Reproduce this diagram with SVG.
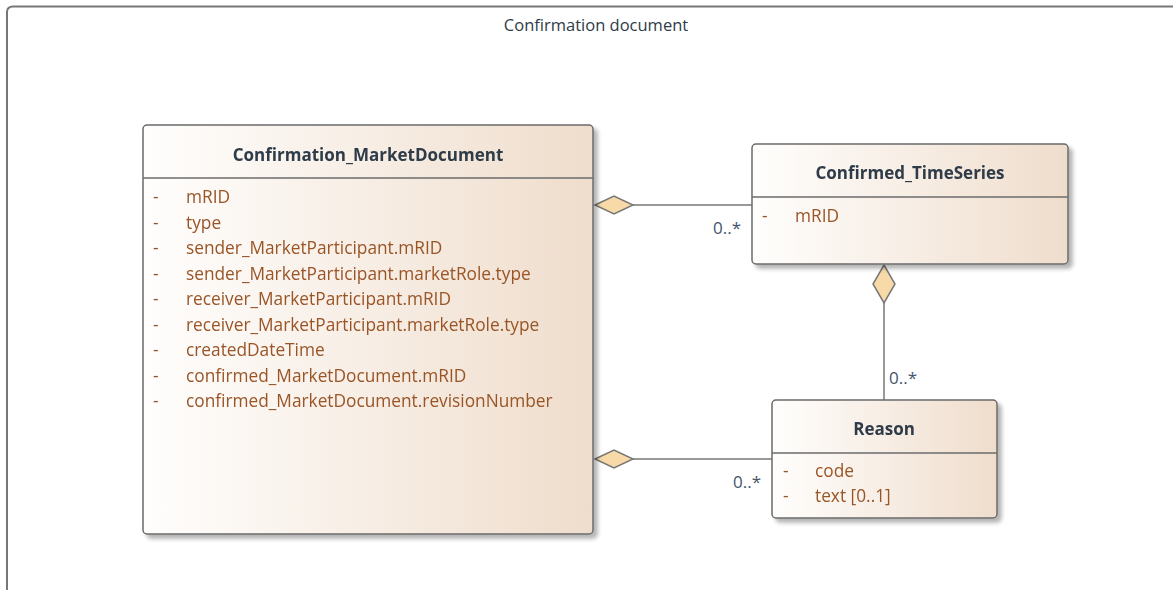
<svg xmlns="http://www.w3.org/2000/svg" width="1173" height="590" viewBox="0 0 1173 590">
<defs>
<linearGradient id="g" x1="0" y1="0" x2="1" y2="0">
<stop offset="0" stop-color="#FFFEFD"/>
<stop offset="1" stop-color="#EFDDCC"/>
</linearGradient>
<filter id="sh" x="-5%" y="-5%" width="115%" height="115%">
<feGaussianBlur in="SourceAlpha" stdDeviation="2"/>
<feOffset dx="4" dy="4"/>
<feComponentTransfer><feFuncA type="linear" slope="0.3"/></feComponentTransfer>
<feMerge><feMergeNode/><feMergeNode in="SourceGraphic"/></feMerge>
</filter>
</defs>
<style>
.box{fill:url(#g);stroke:#6b6b6b;stroke-width:1.5}
.sep{stroke:#6b6b6b;stroke-width:1.5}
.title{font-family:"Open Sans","Noto Sans",sans-serif;font-weight:bold;font-size:17px;fill:#2f3b48;text-anchor:middle}
.attr{font-family:"Open Sans","Noto Sans",sans-serif;font-size:17.3px;fill:#9a5427}
.line{stroke:#777;stroke-width:1.5;fill:none}
.dia{fill:#F8D9A8;stroke:#777;stroke-width:1.5}
.mult{font-family:"Open Sans","Noto Sans",sans-serif;font-size:17px;fill:#44546a}
.frame{fill:none;stroke:#777;stroke-width:2}
.ftitle{font-family:"Open Sans","Noto Sans",sans-serif;font-size:16.5px;fill:#2f3b48;text-anchor:middle}
</style>
<rect width="1173" height="590" fill="#fff"/>
<g id="frame">
<path class="frame" d="M7 600 V12 Q7 6.5 13 6.5 H1180"/>
<text class="ftitle" x="596" y="31">Confirmation document</text>
</g>
<g id="connectors">
<line class="line" x1="633" y1="205" x2="752" y2="205"/>
<polygon class="dia" points="595,205 614,196 633,205 614,214"/>
<text class="mult" x="713" y="234">0..*</text>
<line class="line" x1="633" y1="459" x2="772" y2="459"/>
<polygon class="dia" points="595,459 614,450 633,459 614,468"/>
<text class="mult" x="733" y="488">0..*</text>
<line class="line" x1="884" y1="303" x2="884" y2="400"/>
<polygon class="dia" points="884,265 895,284 884,303 873,284"/>
<text class="mult" x="889" y="384">0..*</text>
</g>
<g id="Confirmation_MarketDocument" filter="url(#sh)">
<rect class="box" x="143" y="125" width="450" height="409" rx="4"/>
<line class="sep" x1="143" y1="178" x2="593" y2="178"/>
<text class="title" x="368" y="161">Confirmation_MarketDocument</text>
<g class="attr">
<text x="153" y="203">-</text><text x="186" y="203">mRID</text>
<text x="153" y="228.5">-</text><text x="186" y="228.5">type</text>
<text x="153" y="254">-</text><text x="186" y="254">sender_MarketParticipant.mRID</text>
<text x="153" y="279.5">-</text><text x="186" y="279.5">sender_MarketParticipant.marketRole.type</text>
<text x="153" y="305">-</text><text x="186" y="305">receiver_MarketParticipant.mRID</text>
<text x="153" y="330.5">-</text><text x="186" y="330.5">receiver_MarketParticipant.marketRole.type</text>
<text x="153" y="356">-</text><text x="186" y="356">createdDateTime</text>
<text x="153" y="381.5">-</text><text x="186" y="381.5">confirmed_MarketDocument.mRID</text>
<text x="153" y="407">-</text><text x="186" y="407">confirmed_MarketDocument.revisionNumber</text>
</g>
</g>
<g id="Confirmed_TimeSeries" filter="url(#sh)">
<rect class="box" x="752" y="144" width="316" height="120" rx="4"/>
<line class="sep" x1="752" y1="197" x2="1068" y2="197"/>
<text class="title" x="910" y="179">Confirmed_TimeSeries</text>
<g class="attr">
<text x="762" y="222">-</text><text x="795" y="222">mRID</text>
</g>
</g>
<g id="Reason" filter="url(#sh)">
<rect class="box" x="772" y="400" width="225" height="118" rx="4"/>
<line class="sep" x1="772" y1="453" x2="997" y2="453"/>
<text class="title" x="884" y="435">Reason</text>
<g class="attr">
<text x="783" y="477">-</text><text x="815" y="477">code</text>
<text x="783" y="502">-</text><text x="815" y="502">text [0..1]</text>
</g>
</g>
</svg>
